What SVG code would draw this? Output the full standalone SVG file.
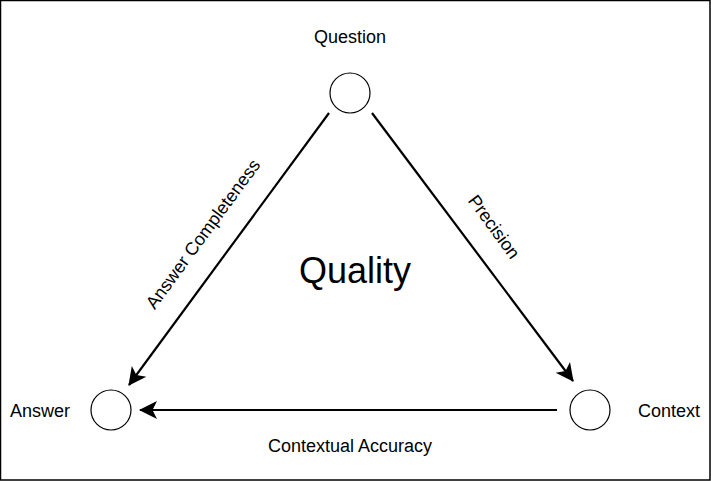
<svg xmlns="http://www.w3.org/2000/svg" width="711" height="481" viewBox="0 0 711 481">
<style>
.node{fill:#fff;stroke:#000;stroke-width:1.2}
.edge{stroke:#000;stroke-width:2.2;fill:none}
.lbl{font-family:"Liberation Sans",Arial,sans-serif;font-size:18px;fill:#000;text-anchor:middle;dominant-baseline:central}
</style>
<defs>
<marker id="arr" markerUnits="userSpaceOnUse" markerWidth="22" markerHeight="22" refX="17" refY="9" orient="auto" viewBox="0 0 22 18">
<path d="M0,0 L18,9 L0,18 L4.5,9 Z" fill="#000"/>
</marker>
</defs>
<rect x="0.5" y="0.5" width="709.5" height="479.5" fill="#fff" stroke="#000" stroke-width="1.5"/>
<g id="connectors">
<line class="edge" x1="329" y1="113" x2="129" y2="385" marker-end="url(#arr)"/>
<line class="edge" x1="372" y1="113" x2="573" y2="381" marker-end="url(#arr)"/>
<line class="edge" x1="557" y1="410" x2="140" y2="410" marker-end="url(#arr)"/>
</g>
<g id="question">
<circle class="node" cx="350" cy="93" r="20"/>
<text class="lbl" x="350" y="37">Question</text>
</g>
<g id="answer">
<circle class="node" cx="111" cy="410" r="20"/>
<text class="lbl" x="40" y="411">Answer</text>
</g>
<g id="context">
<circle class="node" cx="590" cy="410" r="20"/>
<text class="lbl" x="669" y="411">Context</text>
</g>
<g id="labels">
<text class="lbl" x="355" y="270" style="font-size:36px">Quality</text>
<text class="lbl" x="203" y="234" transform="rotate(-53.8 203 234)">Answer Completeness</text>
<text class="lbl" x="494" y="227" transform="rotate(53.8 494 227)">Precision</text>
<text class="lbl" x="350" y="446">Contextual Accuracy</text>
</g>
</svg>
